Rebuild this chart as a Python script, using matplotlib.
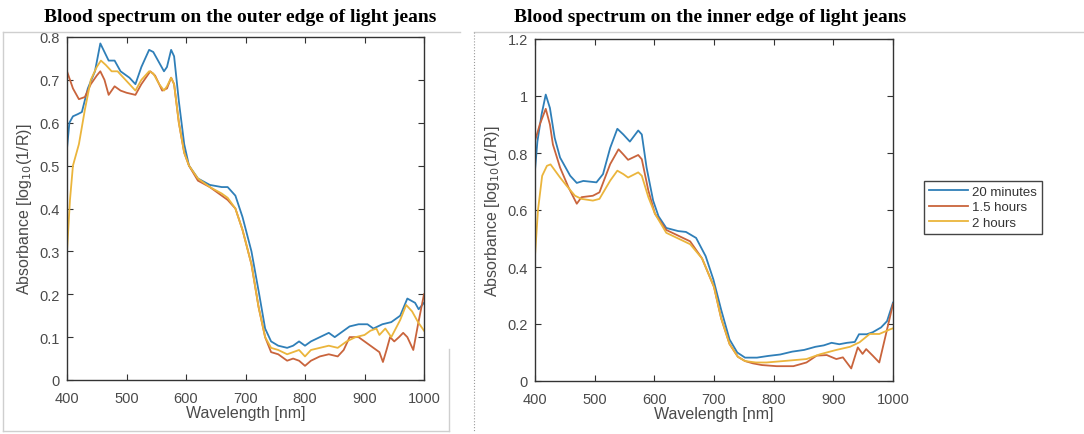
import numpy as np
import matplotlib
matplotlib.use('Agg')
import matplotlib.pyplot as plt
from matplotlib.lines import Line2D
from matplotlib.ticker import FormatStrFormatter

plt.rcParams['font.family'] = ['Liberation Sans', 'DejaVu Sans']

labels = ['20 minutes', '1.5 hours', '2 hours']
colors = ['#2f7fb8', '#c9643c', '#ebb53c']

# outer edge (left panel)
outer_w_20m = [400, 404, 410, 418, 425, 435, 447, 456, 463, 470, 480, 490, 505, 515, 525, 538, 545, 555, 563, 568,
               575, 580, 588, 597, 605, 620, 640, 660, 670, 683, 695, 710, 723, 733, 743, 755, 770, 780, 790, 800,
               810, 825, 840, 850, 860, 875, 890, 905, 915, 930, 945, 960, 972, 985, 991, 1000]
outer_a_20m = [0.54, 0.6, 0.615, 0.62, 0.625, 0.68, 0.72, 0.785, 0.765, 0.745, 0.745, 0.72, 0.705, 0.69, 0.73, 0.77,
               0.765, 0.74, 0.72, 0.73, 0.77, 0.755, 0.65, 0.55, 0.5, 0.47, 0.455, 0.45, 0.45, 0.43, 0.38, 0.3, 0.2,
               0.12, 0.09, 0.08, 0.075, 0.08, 0.09, 0.08, 0.09, 0.1, 0.11, 0.1, 0.11, 0.125, 0.13, 0.13, 0.12, 0.13,
               0.135, 0.15, 0.19, 0.18, 0.165, 0.18]
outer_w_15h = [400, 410, 420, 430, 440, 450, 456, 463, 470, 480, 490, 500, 515, 525, 540, 548, 560, 568, 575, 580,
               588, 597, 605, 620, 640, 660, 670, 683, 695, 710, 722, 733, 743, 755, 770, 780, 790, 800, 810, 825,
               840, 855, 865, 875, 890, 900, 915, 925, 931, 937, 943, 950, 958, 965, 972, 982, 990, 1000]
outer_a_15h = [0.72, 0.68, 0.655, 0.66, 0.69, 0.71, 0.72, 0.7, 0.665, 0.685, 0.675, 0.67, 0.665, 0.69, 0.72, 0.71,
               0.675, 0.68, 0.705, 0.69, 0.6, 0.53, 0.5, 0.465, 0.45, 0.43, 0.42, 0.4, 0.35, 0.27, 0.17, 0.1, 0.065,
               0.06, 0.045, 0.05, 0.045, 0.033, 0.045, 0.055, 0.06, 0.055, 0.07, 0.1, 0.1, 0.09, 0.075, 0.065, 0.042,
               0.07, 0.1, 0.09, 0.1, 0.11, 0.1, 0.07, 0.13, 0.2]
outer_w_2h = [400, 405, 410, 420, 430, 440, 450, 457, 465, 475, 485, 495, 505, 515, 525, 538, 545, 555, 563, 568,
              575, 580, 588, 597, 605, 620, 640, 660, 670, 683, 695, 710, 722, 733, 743, 755, 770, 780, 790, 800,
              810, 825, 840, 855, 870, 885, 900, 910, 920, 925, 935, 945, 960, 970, 980, 990, 1000]
outer_a_2h = [0.3, 0.42, 0.5, 0.55, 0.63, 0.7, 0.73, 0.745, 0.735, 0.72, 0.72, 0.705, 0.69, 0.675, 0.7, 0.72, 0.715,
              0.69, 0.675, 0.685, 0.705, 0.69, 0.6, 0.53, 0.5, 0.47, 0.45, 0.435, 0.425, 0.4, 0.35, 0.27, 0.17, 0.1,
              0.075, 0.07, 0.06, 0.065, 0.07, 0.055, 0.07, 0.075, 0.08, 0.075, 0.09, 0.1, 0.105, 0.115, 0.12, 0.105,
              0.12, 0.1, 0.14, 0.175, 0.16, 0.135, 0.115]

# inner edge (right panel)
inner_w_20m = [400, 404, 411, 418, 425, 433, 442, 459, 470, 481, 503, 514, 526, 538, 548, 559, 573, 579, 587, 598,
               607, 620, 640, 653, 670, 686, 699, 712, 726, 739, 752, 772, 791, 811, 831, 851, 870, 884, 897, 910,
               923, 936, 943, 956, 966, 980, 990, 1000]
inner_a_20m = [0.74, 0.84, 0.935, 1.005, 0.958, 0.853, 0.784, 0.72, 0.695, 0.702, 0.697, 0.726, 0.818, 0.885, 0.865,
               0.84, 0.879, 0.865, 0.749, 0.633, 0.578, 0.537, 0.526, 0.523, 0.502, 0.438, 0.356, 0.25, 0.146, 0.1,
               0.082, 0.082, 0.088, 0.093, 0.103, 0.109, 0.12, 0.125, 0.134, 0.129, 0.134, 0.137, 0.164, 0.164,
               0.171, 0.188, 0.21, 0.275]
inner_w_15h = [400, 408, 418, 425, 430, 442, 456, 470, 478, 497, 508, 526, 540, 548, 556, 573, 579, 590, 601, 620,
               640, 660, 680, 700, 712, 726, 740, 752, 765, 780, 805, 833, 855, 872, 889, 905, 916, 930, 941, 949,
               955, 966, 977, 985, 1000]
inner_a_15h = [0.842, 0.9, 0.955, 0.9, 0.83, 0.749, 0.68, 0.622, 0.645, 0.65, 0.662, 0.761, 0.813, 0.795, 0.776,
               0.793, 0.778, 0.668, 0.587, 0.53, 0.51, 0.49, 0.43, 0.33, 0.22, 0.13, 0.085, 0.07, 0.062, 0.056,
               0.052, 0.052, 0.065, 0.089, 0.091, 0.077, 0.083, 0.044, 0.118, 0.095, 0.112, 0.089, 0.065, 0.136, 0.27]
inner_w_2h = [400, 405, 412, 420, 426, 442, 453, 467, 478, 497, 508, 526, 538, 548, 556, 573, 579, 590, 601, 620,
              640, 660, 680, 700, 712, 726, 740, 752, 770, 788, 822, 855, 878, 905, 928, 944, 961, 977, 996, 1000]
inner_a_2h = [0.44, 0.6, 0.72, 0.755, 0.76, 0.714, 0.685, 0.65, 0.639, 0.633, 0.639, 0.703, 0.738, 0.726, 0.714,
              0.732, 0.72, 0.645, 0.587, 0.52, 0.5, 0.48, 0.43, 0.33, 0.22, 0.13, 0.085, 0.07, 0.065, 0.065, 0.071,
              0.077, 0.094, 0.109, 0.12, 0.136, 0.165, 0.165, 0.182, 0.185]

outer = [(outer_w_20m, outer_a_20m), (outer_w_15h, outer_a_15h), (outer_w_2h, outer_a_2h)]
inner = [(inner_w_20m, inner_a_20m), (inner_w_15h, inner_a_15h), (inner_w_2h, inner_a_2h)]

W, H = 1084, 435
fig = plt.figure(figsize=(W / 100, H / 100), dpi=100)
ax1 = fig.add_axes([67 / W, 1 - 381 / H, 357 / W, 343 / H])
ax2 = fig.add_axes([535 / W, 1 - 382 / H, 358 / W, 342 / H])

axcol = '#333333'
for ax, series, ymax, ystep in [(ax1, outer, 0.8, 0.1), (ax2, inner, 1.2, 0.2)]:
    for (w, a), c, lab in zip(series, colors, labels):
        ax.plot(w, a, color=c, lw=1.3, label=lab)
    ax.set_xlim(400, 1000)
    ax.set_ylim(0, ymax)
    ax.set_xticks(np.arange(400, 1001, 100))
    ax.set_yticks(np.arange(0, ymax + 1e-9, ystep))
    ax.yaxis.set_major_formatter(FormatStrFormatter('%g'))
    ax.tick_params(direction='in', top=True, right=True, length=4, width=0.8,
                   colors=axcol, labelcolor='#4a4a4a', labelsize=10.5)
    ax.tick_params(axis='x', pad=8)
    ax.tick_params(axis='y', pad=5)
    for s in ax.spines.values():
        s.set_color(axcol)
        s.set_linewidth(1.0)
    ax.set_xlabel('Wavelength [nm]', fontsize=11.5, color='#4a4a4a', labelpad=0)
    ax.set_ylabel('Absorbance [log$_{10}$(1/R)]', fontsize=11.5, color='#4a4a4a', labelpad=4)

fig.text(240 / W, 1 - 17 / H, 'Blood spectrum on the outer edge of light jeans', ha='center', va='center',
         family='Liberation Serif', weight='bold', fontsize=14)
fig.text(710 / W, 1 - 17 / H, 'Blood spectrum on the inner edge of light jeans', ha='center', va='center',
         family='Liberation Serif', weight='bold', fontsize=14)

h, l = ax2.get_legend_handles_labels()
leg = fig.legend(h, l, loc='upper left', bbox_to_anchor=(924 / W, 1 - 182 / H), borderaxespad=0,
                 fontsize=9.5, handlelength=3.0, handletextpad=0.3, labelspacing=0.25, borderpad=0.35,
                 fancybox=False, framealpha=1, edgecolor='#444444', labelcolor='#333333')
leg.get_frame().set_linewidth(1.0)

# faint panel frames around the two images
gray = '#cfcfcf'
fig.add_artist(Line2D([3 / W, 460 / W], [1 - 33 / H, 1 - 33 / H], color=gray, lw=1))
fig.add_artist(Line2D([474 / W, 1], [1 - 33 / H, 1 - 33 / H], color=gray, lw=1))
fig.add_artist(Line2D([3 / W, 3 / W], [1 - 33 / H, 1 - 432 / H], color=gray, lw=1))
fig.add_artist(Line2D([3 / W, 449 / W], [1 - 432 / H, 1 - 432 / H], color=gray, lw=1))
fig.add_artist(Line2D([449 / W, 449 / W], [1 - 350 / H, 1 - 432 / H], color=gray, lw=1))
fig.add_artist(Line2D([474 / W, 474 / W], [1 - 33 / H, 1 - 432 / H], color='#9a9a9a', lw=0.8, ls=':'))

fig.savefig('out.png', dpi=100)
